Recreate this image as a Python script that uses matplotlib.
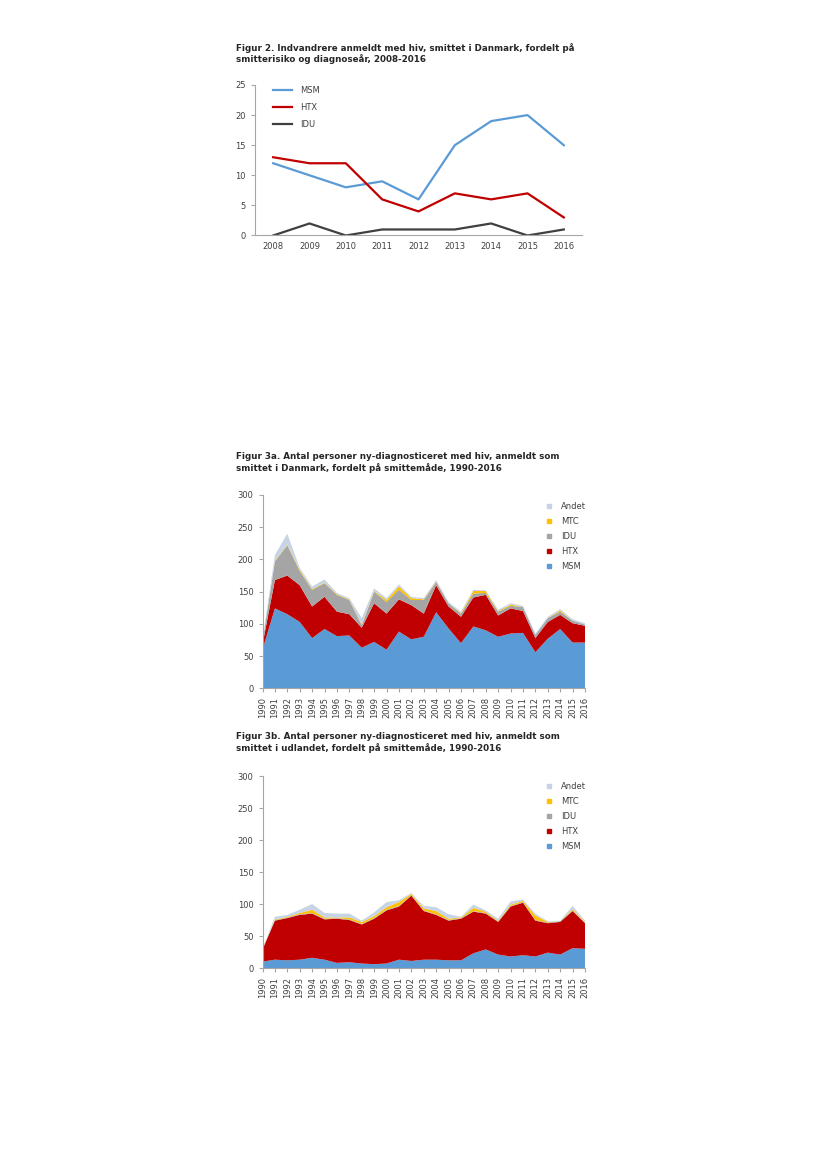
import matplotlib.pyplot as plt
from matplotlib.patches import Patch
import numpy as np

# Figur 2 data
years_f2 = ["2008", "2009", "2010", "2011", "2012", "2013", "2014", "2015", "2016"]
msm_f2 = [12, 10, 8, 9, 6, 15, 19, 20, 15]
htx_f2 = [13, 12, 12, 6, 4, 7, 6, 7, 3]
idu_f2 = [0, 2, 0, 1, 1, 1, 2, 0, 1]

# Figur 3a / 3b data
years_f3 = list(range(1990, 2017))
msm_dk = [60, 124, 115, 103, 78, 92, 81, 82, 63, 72, 60, 88, 76, 80, 118, 93, 70, 96, 90, 80, 85, 86, 56, 77, 92, 71, 71]
htx_dk = [8, 44, 60, 57, 49, 50, 38, 33, 31, 60, 56, 50, 53, 36, 42, 34, 41, 45, 55, 33, 39, 34, 22, 26, 22, 30, 26]
idu_dk = [4, 29, 47, 22, 26, 21, 26, 22, 4, 18, 18, 15, 8, 21, 5, 5, 5, 6, 3, 6, 4, 6, 5, 6, 5, 4, 2]
mtc_dk = [0, 1, 1, 2, 1, 1, 1, 1, 1, 1, 3, 5, 3, 1, 1, 0, 1, 4, 3, 1, 2, 0, 0, 0, 2, 0, 0]
andet_dk = [3, 9, 17, 3, 4, 5, 2, 2, 10, 4, 3, 3, 2, 2, 2, 2, 2, 2, 1, 2, 2, 2, 2, 2, 2, 2, 2]

msm_ud = [10, 13, 12, 13, 16, 13, 8, 9, 7, 6, 7, 13, 11, 13, 13, 12, 12, 23, 29, 21, 18, 20, 18, 24, 21, 31, 30]
htx_ud = [19, 61, 66, 70, 69, 63, 69, 66, 61, 71, 83, 83, 102, 76, 70, 62, 65, 65, 56, 51, 78, 82, 56, 46, 51, 58, 40]
idu_ud = [0, 1, 1, 1, 1, 1, 1, 1, 1, 1, 1, 1, 1, 1, 1, 1, 1, 1, 1, 1, 1, 1, 1, 1, 1, 1, 1]
mtc_ud = [0, 1, 1, 2, 5, 2, 1, 3, 3, 3, 4, 6, 2, 3, 5, 2, 1, 5, 2, 1, 2, 2, 7, 1, 0, 2, 1]
andet_ud = [1, 4, 3, 5, 9, 7, 6, 6, 2, 6, 8, 3, 1, 4, 6, 7, 1, 5, 2, 3, 5, 2, 3, 1, 1, 5, 2]

labels_f3 = ["MSM", "HTX", "IDU", "MTC", "Andet"]
colors_f3 = ["#5B9BD5", "#C00000", "#A5A5A5", "#FFC000", "#C6D4E6"]

TXT = "#404040"
SPINE = "#A6A6A6"
W, H = 826, 1169


def fig_rect(left, top, right, bottom):
    return [left / W, 1 - bottom / H, (right - left) / W, (bottom - top) / H]


def style_axes(ax):
    for s in ["top", "right"]:
        ax.spines[s].set_visible(False)
    for s in ["left", "bottom"]:
        ax.spines[s].set_color(SPINE)
        ax.spines[s].set_linewidth(0.8)
    ax.tick_params(colors=SPINE, labelcolor=TXT, labelsize=6, length=3, width=0.8)


fig = plt.figure(figsize=(8.26, 11.69), dpi=100)

# Figur 2
fig.text(236 / W, 1 - 43 / H, "Figur 2. Indvandrere anmeldt med hiv, smittet i Danmark, fordelt på\nsmitterisiko og diagnoseår, 2008-2016",
         fontsize=6.3, fontweight="bold", color="#262626", va="top", ha="left", linespacing=1.2)
ax1 = fig.add_axes(fig_rect(255, 85, 582, 235.5))
x2 = np.arange(len(years_f2))
ax1.plot(x2, msm_f2, color="#5B9BD5", lw=1.6, label="MSM")
ax1.plot(x2, htx_f2, color="#C00000", lw=1.6, label="HTX")
ax1.plot(x2, idu_f2, color="#404040", lw=1.6, label="IDU")
ax1.set_xlim(-0.5, len(years_f2) - 0.5)
ax1.set_ylim(0, 25)
ax1.set_yticks([0, 5, 10, 15, 20, 25])
ax1.set_xticks(x2)
ax1.set_xticklabels(years_f2)
style_axes(ax1)
ax1.tick_params(axis="x", length=0, pad=5)
ax1.legend(loc="upper left", bbox_to_anchor=(273 / W, 1 - 86 / H), bbox_transform=fig.transFigure,
           frameon=False, fontsize=6, handlelength=2.3, labelspacing=0.95, labelcolor=TXT,
           borderpad=0, borderaxespad=0, handletextpad=1.0)


def area_chart(ax, series, legend_top):
    ax.stackplot(years_f3, *series, colors=colors_f3, labels=labels_f3, lw=0)
    ax.set_xlim(1990, 2016)
    ax.set_ylim(0, 300)
    ax.set_yticks(range(0, 301, 50))
    ax.set_xticks(years_f3)
    ax.set_xticklabels([str(y) for y in years_f3], rotation=90)
    style_axes(ax)
    handles = [Patch(color=c) for c in colors_f3][::-1]
    ax.legend(handles, labels_f3[::-1], loc="upper left",
              bbox_to_anchor=(547 / W, 1 - legend_top / H), bbox_transform=fig.transFigure,
              frameon=False, fontsize=6, handlelength=0.5, handleheight=0.5,
              handletextpad=1.2, labelspacing=0.72, labelcolor=TXT,
              borderpad=0, borderaxespad=0)


# Figur 3a
fig.text(236 / W, 1 - 452 / H, "Figur 3a. Antal personer ny-diagnosticeret med hiv, anmeldt som\nsmittet i Danmark, fordelt på smittemåde, 1990-2016",
         fontsize=6.3, fontweight="bold", color="#262626", va="top", ha="left", linespacing=1.2)
ax2 = fig.add_axes(fig_rect(262.5, 495, 585, 688.3))
area_chart(ax2, [msm_dk, htx_dk, idu_dk, mtc_dk, andet_dk], 502)

# Figur 3b
fig.text(236 / W, 1 - 732 / H, "Figur 3b. Antal personer ny-diagnosticeret med hiv, anmeldt som\nsmittet i udlandet, fordelt på smittemåde, 1990-2016",
         fontsize=6.3, fontweight="bold", color="#262626", va="top", ha="left", linespacing=1.2)
ax3 = fig.add_axes(fig_rect(262.5, 776, 585, 968))
area_chart(ax3, [msm_ud, htx_ud, idu_ud, mtc_ud, andet_ud], 782)

fig.savefig("out.png", dpi=100)
